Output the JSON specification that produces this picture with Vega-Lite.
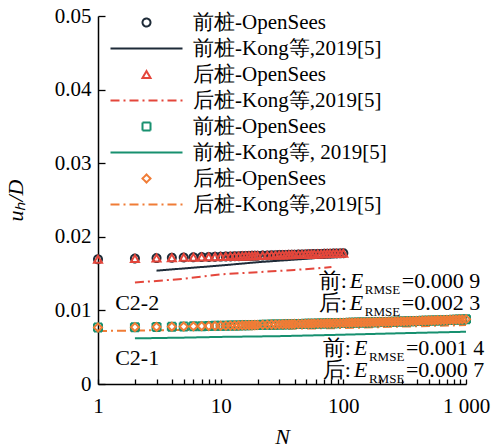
{
  "$schema": "https://vega.github.io/schema/vega-lite/v6.json",
  "width": 368,
  "height": 368,
  "autosize": {"type": "none"},
  "padding": {"left": 98, "top": 16, "right": 27, "bottom": 64},
  "background": "white",
  "config": {
    "view": {"stroke": null},
    "font": "Liberation Serif",
    "text": {"font": "Liberation Serif"},
    "legend": {"labelFont": "Liberation Serif", "titleFont": "Liberation Serif"},
    "axis": {
      "labelFont": "Liberation Serif",
      "titleFont": "Liberation Serif",
      "labelColor": "black",
      "titleColor": "black",
      "domainColor": "black",
      "tickColor": "black",
      "titleFontWeight": "normal",
      "grid": false,
      "domainWidth": 1.5,
      "tickWidth": 1.3
    }
  },
  "datasets": {
    "pts": [
      {"N": 1, "A": 0.01695, "C": 0.01695, "E": 0.00768, "G": 0.00768},
      {"N": 2, "A": 0.01705, "C": 0.01704, "E": 0.00772, "G": 0.00772},
      {"N": 3, "A": 0.01711, "C": 0.01712, "E": 0.00776, "G": 0.00776},
      {"N": 4, "A": 0.01716, "C": 0.01716, "E": 0.00779, "G": 0.00779},
      {"N": 5, "A": 0.01719, "C": 0.0172, "E": 0.00782, "G": 0.00781},
      {"N": 6, "A": 0.01722, "C": 0.01722, "E": 0.00784, "G": 0.00784},
      {"N": 7, "A": 0.01725, "C": 0.01725, "E": 0.00786, "G": 0.00786},
      {"N": 8, "A": 0.01727, "C": 0.01727, "E": 0.00788, "G": 0.00788},
      {"N": 9, "A": 0.01729, "C": 0.01729, "E": 0.0079, "G": 0.0079},
      {"N": 10, "A": 0.01731, "C": 0.01731, "E": 0.00791, "G": 0.00792},
      {"N": 11, "A": 0.01733, "C": 0.01733, "E": 0.00793, "G": 0.00793},
      {"N": 12, "A": 0.01734, "C": 0.01735, "E": 0.00794, "G": 0.00794},
      {"N": 13, "A": 0.01736, "C": 0.01736, "E": 0.00795, "G": 0.00795},
      {"N": 14, "A": 0.01737, "C": 0.01737, "E": 0.00796, "G": 0.00797},
      {"N": 15, "A": 0.01738, "C": 0.01738, "E": 0.00797, "G": 0.00798},
      {"N": 16, "A": 0.0174, "C": 0.0174, "E": 0.00798, "G": 0.00799},
      {"N": 17, "A": 0.01741, "C": 0.01741, "E": 0.00799, "G": 0.008},
      {"N": 18, "A": 0.01742, "C": 0.01742, "E": 0.008, "G": 0.00801},
      {"N": 19, "A": 0.01743, "C": 0.01743, "E": 0.00801, "G": 0.00802},
      {"N": 20, "A": 0.01744, "C": 0.01744, "E": 0.00802, "G": 0.00803},
      {"N": 22, "A": 0.01746, "C": 0.01746, "E": 0.00804, "G": 0.00805},
      {"N": 24, "A": 0.01747, "C": 0.01748, "E": 0.00805, "G": 0.00806},
      {"N": 26, "A": 0.01749, "C": 0.01749, "E": 0.00807, "G": 0.00808},
      {"N": 28, "A": 0.0175, "C": 0.01751, "E": 0.00808, "G": 0.00809},
      {"N": 30, "A": 0.01752, "C": 0.01752, "E": 0.00809, "G": 0.0081},
      {"N": 32, "A": 0.01753, "C": 0.01753, "E": 0.0081, "G": 0.00811},
      {"N": 34, "A": 0.01754, "C": 0.01754, "E": 0.00811, "G": 0.00812},
      {"N": 36, "A": 0.01755, "C": 0.01756, "E": 0.00812, "G": 0.00813},
      {"N": 38, "A": 0.01756, "C": 0.01757, "E": 0.00813, "G": 0.00814},
      {"N": 40, "A": 0.01757, "C": 0.01758, "E": 0.00814, "G": 0.00815},
      {"N": 43, "A": 0.01759, "C": 0.01759, "E": 0.00815, "G": 0.00816},
      {"N": 46, "A": 0.0176, "C": 0.01761, "E": 0.00816, "G": 0.00817},
      {"N": 49, "A": 0.01761, "C": 0.01762, "E": 0.00817, "G": 0.00818},
      {"N": 52, "A": 0.01763, "C": 0.01763, "E": 0.00818, "G": 0.00819},
      {"N": 55, "A": 0.01764, "C": 0.01764, "E": 0.00819, "G": 0.0082},
      {"N": 58, "A": 0.01765, "C": 0.01765, "E": 0.0082, "G": 0.00821},
      {"N": 62, "A": 0.01766, "C": 0.01767, "E": 0.00821, "G": 0.00822},
      {"N": 66, "A": 0.01768, "C": 0.01768, "E": 0.00822, "G": 0.00823},
      {"N": 70, "A": 0.01769, "C": 0.01769, "E": 0.00823, "G": 0.00824},
      {"N": 74, "A": 0.0177, "C": 0.01771, "E": 0.00824, "G": 0.00825},
      {"N": 78, "A": 0.01771, "C": 0.01772, "E": 0.00825, "G": 0.00826},
      {"N": 83, "A": 0.01773, "C": 0.01773, "E": 0.00826, "G": 0.00827},
      {"N": 88, "A": 0.01774, "C": 0.01774, "E": 0.00827, "G": 0.00828},
      {"N": 94, "A": 0.01775, "C": 0.01776, "E": 0.00828, "G": 0.00829},
      {"N": 100, "A": 0.01777, "C": 0.01777, "E": 0.00829, "G": 0.0083},
      {"N": 106, "E": 0.0083, "G": 0.00831},
      {"N": 112, "E": 0.00831, "G": 0.00832},
      {"N": 118, "E": 0.00832, "G": 0.00833},
      {"N": 125, "E": 0.00833, "G": 0.00834},
      {"N": 132, "E": 0.00834, "G": 0.00835},
      {"N": 140, "E": 0.00835, "G": 0.00836},
      {"N": 148, "E": 0.00836, "G": 0.00837},
      {"N": 157, "E": 0.00837, "G": 0.00838},
      {"N": 166, "E": 0.00838, "G": 0.00839},
      {"N": 176, "E": 0.00839, "G": 0.0084},
      {"N": 186, "E": 0.0084, "G": 0.00841},
      {"N": 197, "E": 0.00841, "G": 0.00842},
      {"N": 209, "E": 0.00842, "G": 0.00843},
      {"N": 221, "E": 0.00843, "G": 0.00844},
      {"N": 234, "E": 0.00844, "G": 0.00845},
      {"N": 248, "E": 0.00845, "G": 0.00846},
      {"N": 263, "E": 0.00846, "G": 0.00848},
      {"N": 278, "E": 0.00848, "G": 0.00849},
      {"N": 295, "E": 0.00849, "G": 0.0085},
      {"N": 312, "E": 0.0085, "G": 0.00851},
      {"N": 331, "E": 0.00851, "G": 0.00852},
      {"N": 350, "E": 0.00852, "G": 0.00854},
      {"N": 371, "E": 0.00854, "G": 0.00855},
      {"N": 393, "E": 0.00855, "G": 0.00856},
      {"N": 416, "E": 0.00856, "G": 0.00857},
      {"N": 441, "E": 0.00858, "G": 0.00859},
      {"N": 467, "E": 0.00859, "G": 0.0086},
      {"N": 495, "E": 0.0086, "G": 0.00862},
      {"N": 524, "E": 0.00862, "G": 0.00863},
      {"N": 555, "E": 0.00863, "G": 0.00864},
      {"N": 588, "E": 0.00864, "G": 0.00866},
      {"N": 623, "E": 0.00866, "G": 0.00867},
      {"N": 660, "E": 0.00867, "G": 0.00869},
      {"N": 699, "E": 0.00869, "G": 0.0087},
      {"N": 741, "E": 0.0087, "G": 0.00872},
      {"N": 785, "E": 0.00872, "G": 0.00873},
      {"N": 831, "E": 0.00873, "G": 0.00875},
      {"N": 880, "E": 0.00875, "G": 0.00876},
      {"N": 932, "E": 0.00877, "G": 0.00878},
      {"N": 1000, "E": 0.00879, "G": 0.0088}
    ],
    "kong": [
      {"s": "B", "N": 3, "u": 0.0154},
      {"s": "B", "N": 5, "u": 0.0157},
      {"s": "B", "N": 10, "u": 0.0161},
      {"s": "B", "N": 20, "u": 0.01655},
      {"s": "B", "N": 40, "u": 0.0169},
      {"s": "B", "N": 70, "u": 0.0172},
      {"s": "B", "N": 100, "u": 0.0174},
      {"s": "D", "N": 2, "u": 0.0138},
      {"s": "D", "N": 3, "u": 0.014},
      {"s": "D", "N": 5, "u": 0.0143},
      {"s": "D", "N": 7, "u": 0.0146},
      {"s": "D", "N": 10, "u": 0.0149},
      {"s": "D", "N": 20, "u": 0.0152},
      {"s": "D", "N": 40, "u": 0.0155},
      {"s": "D", "N": 60, "u": 0.0157},
      {"s": "D", "N": 80, "u": 0.0159},
      {"s": "F", "N": 2, "u": 0.0062},
      {"s": "F", "N": 5, "u": 0.0063},
      {"s": "F", "N": 10, "u": 0.0064},
      {"s": "F", "N": 30, "u": 0.0065},
      {"s": "F", "N": 100, "u": 0.0067},
      {"s": "F", "N": 300, "u": 0.0069},
      {"s": "F", "N": 1000, "u": 0.0071},
      {"s": "H", "N": 1, "u": 0.0072},
      {"s": "H", "N": 3, "u": 0.0073},
      {"s": "H", "N": 10, "u": 0.0074},
      {"s": "H", "N": 30, "u": 0.0075},
      {"s": "H", "N": 100, "u": 0.0076},
      {"s": "H", "N": 300, "u": 0.0078},
      {"s": "H", "N": 1000, "u": 0.008}
    ],
    "notes": [
      {"N": 113, "u": 0.01304, "p": "前:", "v": "=0.000 9"},
      {"N": 113, "u": 0.01005, "p": "后:", "v": "=0.002 3"},
      {"N": 122, "u": 0.00394, "p": "前:", "v": "=0.001 4"},
      {"N": 122, "u": 0.00095, "p": "后:", "v": "=0.000 7"}
    ],
    "cases": [
      {"N": 1.38, "u": 0.01005, "t": "C2-2"},
      {"N": 1.38, "u": 0.00258, "t": "C2-1"}
    ]
  },
  "resolve": {"scale": {"color": "independent", "shape": "independent", "strokeDash": "independent"}},
  "layer": [
    {
      "data": {"name": "kong"},
      "mark": {"type": "line", "strokeWidth": 2},
      "encoding": {
        "x": {
          "field": "N", "type": "quantitative",
          "scale": {"type": "log", "domain": [1, 1000], "nice": false},
          "axis": {
            "title": "N",
            "titleFont": "Liberation Serif",
            "labelFont": "Liberation Serif",
            "titleFontStyle": "italic",
            "titleFontSize": 22,
            "titlePadding": 10,
            "labelFontSize": 21,
            "values": [1, 2, 3, 4, 5, 6, 7, 8, 9, 10, 20, 30, 40, 50, 60, 70, 80, 90, 100, 200, 300, 400, 500, 600, 700, 800, 900, 1000],
            "labelExpr": "datum.value == 1000 ? '1 000' : (datum.value == 1 || datum.value == 10 || datum.value == 100) ? format(datum.value, 'd') : ''",
            "labelOverlap": false,
            "labelFlush": false,
            "tickSize": -5,
            "labelPadding": 16
          }
        },
        "y": {
          "field": "u", "type": "quantitative",
          "scale": {"domain": [0, 0.05], "nice": false, "zero": false},
          "axis": {
            "title": "uₕ/D",
            "titleFont": "Liberation Serif",
            "labelFont": "Liberation Serif",
            "titleFontStyle": "italic",
            "titleFontSize": 22,
            "titlePadding": 27,
            "labelFontSize": 21,
            "values": [0, 0.005, 0.01, 0.015, 0.02, 0.025, 0.03, 0.035, 0.04, 0.045, 0.05],
            "labelExpr": "datum.value == 0 ? '0' : (round(datum.value * 1000) % 10 == 0 ? format(datum.value, '.2f') : '')",
            "labelOverlap": false,
            "labelFlush": false,
            "tickSize": -7,
            "labelPadding": 14
          }
        },
        "color": {
          "field": "s", "type": "nominal",
          "scale": {"domain": ["A", "B", "C", "D", "E", "F", "G", "H"], "range": ["#1e2b38", "#1e2b38", "#e4463b", "#e4463b", "#17906f", "#17906f", "#f07c36", "#f07c36"]},
          "legend": null
        },
        "strokeDash": {
          "field": "s", "type": "nominal",
          "scale": {"domain": ["A", "B", "C", "D", "E", "F", "G", "H"], "range": [[1, 0], [1, 0], [1, 0], [9, 4, 2, 4], [1, 0], [1, 0], [1, 0], [9, 4, 2, 4]]},
          "legend": null
        }
      }
    },
    {
      "data": {"name": "pts"},
      "transform": [
        {"fold": ["A", "C", "E", "G"], "as": ["s", "u"]},
        {"filter": "isValid(datum.u)"}
      ],
      "mark": {"type": "point", "filled": false, "strokeWidth": 2, "size": 64, "opacity": 1},
      "encoding": {
        "x": {"field": "N", "type": "quantitative"},
        "y": {"field": "u", "type": "quantitative"},
        "order": {"field": "s"},
        "color": {
          "field": "s", "type": "nominal",
          "scale": {"domain": ["A", "B", "C", "D", "E", "F", "G", "H"], "range": ["#1e2b38", "#1e2b38", "#e4463b", "#e4463b", "#17906f", "#17906f", "#f07c36", "#f07c36"]},
          "legend": {
            "title": null,
            "orient": "none",
            "legendX": 38,
            "legendY": -4,
            "padding": 0,
            "symbolSize": 64,
            "symbolStrokeWidth": 2,
            "labelFont": "Liberation Serif",
            "labelFontSize": 21,
            "labelColor": "black",
            "labelOffset": 36,
            "rowPadding": 4,
            "labelLimit": 400,
            "labelExpr": "['前桩-OpenSees', '前桩-Kong等,2019[5]', '后桩-OpenSees', '后桩-Kong等,2019[5]', '前桩-OpenSees', '前桩-Kong等, 2019[5]', '后桩-OpenSees', '后桩-Kong等,2019[5]'][indexof('ABCDEFGH', datum.label)]"
          }
        },
        "shape": {
          "field": "s", "type": "nominal",
          "scale": {"domain": ["A", "B", "C", "D", "E", "F", "G", "H"], "range": ["circle", "M-9,0L9,0", "triangle-up", "M-9,0L9,0", "square", "M-9,0L9,0", "diamond", "M-9,0L9,0"]}
        },
        "strokeDash": {
          "field": "s", "type": "nominal",
          "scale": {"domain": ["A", "B", "C", "D", "E", "F", "G", "H"], "range": [[1, 0], [1, 0], [1, 0], [9, 4, 2, 4], [1, 0], [1, 0], [1, 0], [9, 4, 2, 4]]}
        }
      }
    },
    {
      "data": {"name": "notes"},
      "encoding": {
        "x": {"field": "N", "type": "quantitative"},
        "y": {"field": "u", "type": "quantitative"}
      },
      "layer": [
        {"mark": {"type": "text", "align": "right", "baseline": "alphabetic", "fontSize": 22, "font": "Liberation Serif", "color": "black", "dx": -3}, "encoding": {"text": {"field": "p"}}},
        {"mark": {"type": "text", "align": "left", "baseline": "alphabetic", "fontSize": 22, "fontStyle": "italic", "font": "Liberation Serif", "color": "black"}, "encoding": {"text": {"value": "E"}}},
        {"mark": {"type": "text", "align": "left", "baseline": "alphabetic", "fontSize": 13, "font": "Liberation Serif", "color": "black", "dx": 15, "dy": 6}, "encoding": {"text": {"value": "RMSE"}}},
        {"mark": {"type": "text", "align": "left", "baseline": "alphabetic", "fontSize": 22, "font": "Liberation Serif", "color": "black", "dx": 52}, "encoding": {"text": {"field": "v"}}}
      ]
    },
    {
      "data": {"name": "cases"},
      "mark": {"type": "text", "align": "left", "baseline": "alphabetic", "fontSize": 22, "font": "Liberation Serif", "color": "black"},
      "encoding": {
        "x": {"field": "N", "type": "quantitative"},
        "y": {"field": "u", "type": "quantitative"},
        "text": {"field": "t"}
      }
    }
  ]
}
